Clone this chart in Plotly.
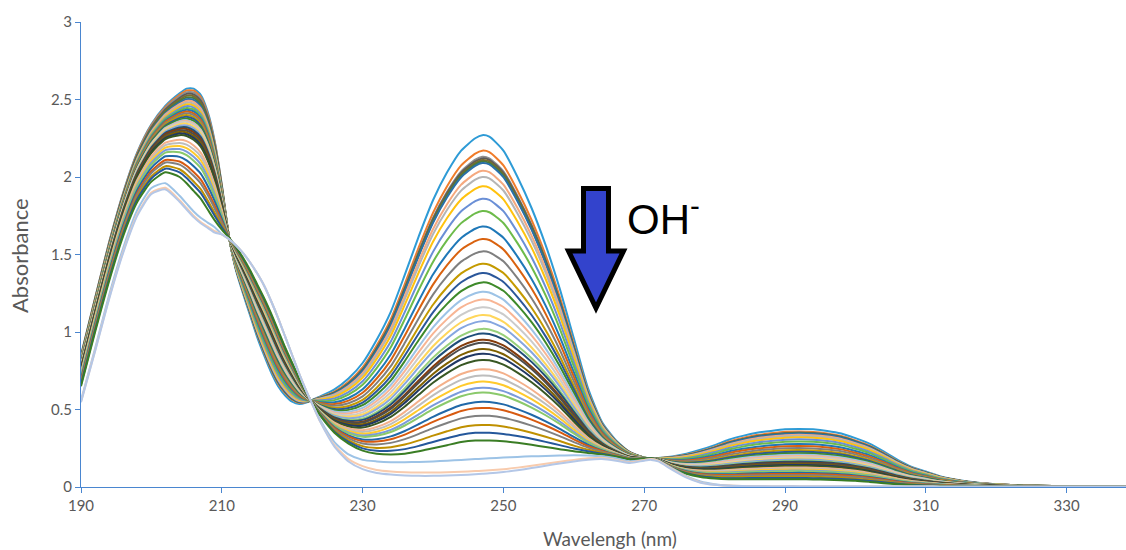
import plotly.graph_objects as go

# ---------------- data ----------------
WAVELENGTH = [190, 192, 194, 196, 198, 200, 202, 204, 205, 206, 207, 208, 209, 210,
              211, 212, 213, 214, 215, 216, 217, 218, 219, 220, 221, 222, 223,
              224, 226, 228, 230, 232, 234, 236, 238, 240, 242, 244, 246, 247, 248, 250,
              252, 254, 256, 258, 260, 262, 264, 266, 268, 270, 271, 272, 274, 276, 278, 280,
              282, 284, 286, 288, 290, 292, 294, 296, 298, 300, 302, 304, 306, 308, 310,
              312, 314, 316, 318, 320, 324, 328, 332, 336, 340]

# first spectrum (no OH-)
SPEC_START = [0.85, 1.22, 1.58, 1.90, 2.16, 2.34, 2.46, 2.54, 2.57, 2.57, 2.53, 2.42, 2.23, 1.95,
              1.62, 1.40, 1.25, 1.11, 0.97, 0.85, 0.74, 0.65, 0.59, 0.55, 0.535, 0.545, 0.565,
              0.585, 0.63, 0.70, 0.80, 0.95, 1.13, 1.37, 1.62, 1.85, 2.03, 2.17, 2.25, 2.27, 2.26, 2.17,
              2.00, 1.80, 1.56, 1.28, 0.96, 0.64, 0.42, 0.30, 0.225, 0.19, 0.185, 0.187, 0.197, 0.215, 0.24, 0.27,
              0.305, 0.33, 0.35, 0.362, 0.372, 0.375, 0.372, 0.362, 0.345, 0.315, 0.28, 0.23, 0.175, 0.13, 0.10,
              0.07, 0.05, 0.035, 0.025, 0.018, 0.01, 0.006, 0.004, 0.003, 0.003]

# last spectrum of the main series
SPEC_END = [0.65, 1.00, 1.33, 1.62, 1.84, 1.97, 2.03, 2.00, 1.96, 1.91, 1.86, 1.79, 1.72, 1.66,
            1.61, 1.55, 1.48, 1.40, 1.31, 1.22, 1.12, 1.01, 0.90, 0.80, 0.70, 0.61, 0.53,
            0.46, 0.35, 0.28, 0.235, 0.215, 0.21, 0.215, 0.23, 0.25, 0.27, 0.29, 0.30, 0.30, 0.30, 0.295,
            0.285, 0.272, 0.258, 0.244, 0.23, 0.22, 0.21, 0.195, 0.178, 0.183, 0.185, 0.172, 0.12, 0.085, 0.065, 0.055,
            0.05, 0.05, 0.05, 0.05, 0.05, 0.05, 0.049, 0.047, 0.044, 0.04, 0.033, 0.025, 0.017, 0.011, 0.008,
            0.006, 0.005, 0.004, 0.003, 0.003, 0.002, 0.002, 0.002, 0.002, 0.002]

# peak heights of every curve of the main series, at 247 nm and at ~205 nm
PEAK_247 = [2.27, 2.17, 2.13, 2.12, 2.11, 2.10, 2.09, 2.04, 2.00, 1.94, 1.86, 1.78, 1.68, 1.60,
            1.52, 1.44, 1.38, 1.32, 1.26, 1.21, 1.16, 1.11, 1.07, 1.02, 0.99, 0.95, 0.93, 0.89,
            0.86, 0.82, 0.76, 0.72, 0.68, 0.64, 0.61, 0.55, 0.51, 0.46, 0.40, 0.35, 0.30]
PEAK_205 = [2.57, 2.56, 2.55, 2.54, 2.53, 2.52, 2.51, 2.50, 2.49, 2.48, 2.47, 2.46, 2.45, 2.44,
            2.43, 2.42, 2.41, 2.40, 2.39, 2.385, 2.38, 2.37, 2.36, 2.35, 2.35, 2.34, 2.33, 2.32,
            2.31, 2.30, 2.27, 2.25, 2.23, 2.21, 2.19, 2.16, 2.13, 2.11, 2.08, 2.06, 2.03]

# final (strongly basic) spectra: short-wavelength part (190-223 nm) and long part (224-340 nm)
FINAL_SHORT = [0.55, 0.88, 1.22, 1.52, 1.76, 1.90, 1.93, 1.85, 1.80, 1.75, 1.71, 1.68, 1.65, 1.63,
               1.60, 1.56, 1.51, 1.45, 1.38, 1.30, 1.20, 1.09, 0.97, 0.85, 0.73, 0.62, 0.52]
FINAL_PEAK = [1.96, 1.93, 1.92]
FINAL_LONG_1 = [0.43, 0.29, 0.21, 0.175, 0.165, 0.16, 0.16, 0.162, 0.165, 0.17, 0.175, 0.18, 0.182, 0.185, 0.19,
                0.194, 0.198, 0.20, 0.203, 0.205, 0.203, 0.198, 0.185, 0.165, 0.175, 0.18, 0.17, 0.12, 0.07, 0.035, 0.018,
                0.01, 0.007, 0.005, 0.004, 0.004, 0.004, 0.003, 0.003, 0.003, 0.003, 0.003, 0.003, 0.003, 0.003, 0.003,
                0.002, 0.002, 0.002, 0.002, 0.002, 0.002, 0.002, 0.002, 0.002, 0.002]
FINAL_LONG_2 = [0.42, 0.27, 0.18, 0.135, 0.11, 0.10, 0.095, 0.093, 0.093, 0.095, 0.098, 0.103, 0.105, 0.108, 0.115,
                0.125, 0.137, 0.15, 0.163, 0.175, 0.185, 0.188, 0.175, 0.16, 0.175, 0.18, 0.17, 0.115, 0.065, 0.03, 0.015,
                0.009, 0.006, 0.005, 0.004, 0.004, 0.004, 0.003, 0.003, 0.003, 0.003, 0.003, 0.003, 0.003, 0.003, 0.003,
                0.002, 0.002, 0.002, 0.002, 0.002, 0.002, 0.002, 0.002, 0.002, 0.002]
FINAL_LONG_3 = [0.42, 0.26, 0.165, 0.115, 0.09, 0.08, 0.075, 0.072, 0.072, 0.074, 0.077, 0.082, 0.085, 0.088, 0.097,
                0.108, 0.122, 0.137, 0.152, 0.165, 0.176, 0.18, 0.17, 0.155, 0.17, 0.175, 0.165, 0.11, 0.06, 0.028, 0.014,
                0.008, 0.006, 0.005, 0.004, 0.004, 0.004, 0.003, 0.003, 0.003, 0.003, 0.003, 0.003, 0.003, 0.003, 0.003,
                0.002, 0.002, 0.002, 0.002, 0.002, 0.002, 0.002, 0.002, 0.002, 0.002]

X_TICKS = [190, 210, 230, 250, 270, 290, 310, 330]
Y_TICKS = [0, 0.5, 1, 1.5, 2, 2.5, 3]
Y_TICK_TEXT = ["0", "0.5", "1", "1.5", "2", "2.5", "3"]

# ---------------- styles ----------------
MAIN_COLORS = ["#2E9BD6", "#F07C2A", "#8E8E8E", "#5A5A5A", "#7A6A2E", "#4A7A3A", "#2A6FA8",
               "#F5A97F", "#B5B5B5", "#FFC20E", "#6A8FD6", "#6DBB4A", "#1F78B8", "#D9620F",
               "#7F7F7F", "#C49A00", "#2B579A", "#3E8A2A", "#9DC3E6", "#F8B594", "#CBCBCB",
               "#FFD65A", "#86A6E0", "#98D07A", "#1F4E79", "#843C0C", "#4D4D4D", "#7F6000",
               "#203864", "#385723", "#F4B08A", "#BDBDBD", "#FFCA2C", "#7A9BDB", "#8AC96B",
               "#2168A8", "#D75A10", "#808080", "#BF9000", "#24579B", "#3A7D24"]
FINAL_COLORS = ["#9DC3E6", "#F8CBAD", "#B4C7E7"]

assert len(WAVELENGTH) == len(SPEC_START) == len(SPEC_END)
assert len(PEAK_247) == len(PEAK_205) == len(MAIN_COLORS)

fig = go.Figure()

a247 = SPEC_START[WAVELENGTH.index(247)]
b247 = SPEC_END[WAVELENGTH.index(247)]
a205, b205 = max(SPEC_START[:14]), max(SPEC_END[:14])

for p247, p205, col in zip(PEAK_247, PEAK_205, MAIN_COLORS):
    f_long = (p247 - b247) / (a247 - b247)
    f_short = (p205 - b205) / (a205 - b205)
    ys = []
    for w, a, b in zip(WAVELENGTH, SPEC_START, SPEC_END):
        f = f_short if w <= 211 else f_long
        ys.append(b + f * (a - b))
    fig.add_trace(go.Scatter(x=WAVELENGTH, y=ys, mode="lines",
                             line=dict(color=col, width=2, shape="spline", smoothing=0.6),
                             showlegend=False, hoverinfo="skip"))

for peak, long_part, col in zip(FINAL_PEAK, [FINAL_LONG_1, FINAL_LONG_2, FINAL_LONG_3], FINAL_COLORS):
    scale = peak / max(FINAL_SHORT)
    ys = [v * scale if i < 13 else v for i, v in enumerate(FINAL_SHORT)] + long_part
    assert len(ys) == len(WAVELENGTH)
    fig.add_trace(go.Scatter(x=WAVELENGTH, y=ys, mode="lines",
                             line=dict(color=col, width=2, shape="spline", smoothing=0.6),
                             showlegend=False, hoverinfo="skip"))

# ---------------- layout ----------------
W_PX, H_PX = 1126, 550
L, R, T, B = 81, 0, 22, 63
PW, PH = W_PX - L - R, H_PX - T - B


def px2paper(x, y):
    return (x - L) / PW, (H_PX - B - y) / PH


AXIS_COLOR = "#4A86D0"
TICK_FONT = dict(family="Lato, Open Sans, sans-serif", size=15, color="#595959")

fig.update_layout(
    width=W_PX, height=H_PX,
    margin=dict(l=L, r=R, t=T, b=B),
    plot_bgcolor="white", paper_bgcolor="white",
    xaxis=dict(range=[190, 190 + PW / 7.04], tickvals=X_TICKS, ticktext=[str(t) for t in X_TICKS],
               showgrid=False, zeroline=False, showline=True, linecolor=AXIS_COLOR, linewidth=1,
               ticks="outside", ticklen=5, tickcolor=AXIS_COLOR, tickfont=TICK_FONT),
    yaxis=dict(range=[0, 3], tickvals=Y_TICKS, ticktext=Y_TICK_TEXT,
               showgrid=False, zeroline=False, showline=True, linecolor=AXIS_COLOR, linewidth=1,
               ticks="outside", ticklen=5, tickcolor=AXIS_COLOR, tickfont=TICK_FONT),
)

# axis titles
tx, ty = px2paper(610, 538)
fig.add_annotation(text="Wavelengh (nm)", x=tx, y=ty, xref="paper", yref="paper",
                   showarrow=False, xanchor="center", yanchor="middle",
                   font=dict(family="Lato, Open Sans, sans-serif", size=19, color="#595959"))
tx, ty = px2paper(20, 256)
fig.add_annotation(text="Absorbance", x=tx, y=ty, xref="paper", yref="paper",
                   showarrow=False, xanchor="center", yanchor="middle", textangle=-90,
                   font=dict(family="Lato, Open Sans, sans-serif", size=22, color="#595959"))

# block arrow
arrow_px = [(583.5, 188.5), (608.5, 188.5), (608.5, 251), (623.5, 251),
            (596, 308), (568.5, 251), (583.5, 251)]
pts = [px2paper(x, y) for x, y in arrow_px]
path = "M " + " L ".join(f"{x:.5f},{y:.5f}" for x, y in pts) + " Z"
fig.add_shape(type="path", path=path, xref="paper", yref="paper",
              fillcolor="#3343CC", line=dict(color="black", width=5), layer="above")

tx, ty = px2paper(625, 216)
fig.add_annotation(text="OH<sup>-</sup>", x=tx, y=ty, xref="paper", yref="paper",
                   showarrow=False, xanchor="left", yanchor="middle",
                   font=dict(family="Liberation Sans, Arial, sans-serif", size=42, color="black"))

fig.write_html("out.html", config={"displayModeBar": False},
               post_script="document.body.style.margin='0';document.body.style.overflow='hidden';")
